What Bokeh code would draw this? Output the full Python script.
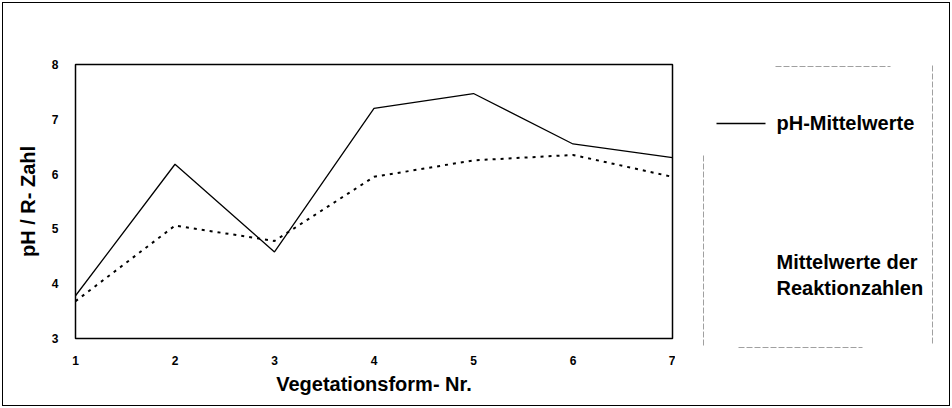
from bokeh.plotting import figure
from bokeh.layouts import row
from bokeh.models import Range1d, FixedTicker
from bokeh.core.properties import value
from bokeh.embed import file_html
from bokeh.resources import INLINE

# ---- data -------------------------------------------------------------
veg_nr = [1, 2, 3, 4, 5, 6, 7]
ph_mean = [3.78, 6.18, 4.58, 7.2, 7.47, 6.55, 6.3]
r_mean = [3.68, 5.06, 4.78, 5.95, 6.25, 6.35, 5.95]
x_ticks = [1, 2, 3, 4, 5, 6, 7]
y_ticks = [3, 4, 5, 6, 7, 8]
legend_labels = ["pH-Mittelwerte", "Mittelwerte der", "Reaktionzahlen"]

FONT = "Liberation Sans"

# ---- main chart -------------------------------------------------------
p = figure(width=675, height=408, output_backend="svg", toolbar_location=None,
           x_range=Range1d(1, 7), y_range=Range1d(3, 8),
           min_border_left=75, min_border_right=3, min_border_top=64, min_border_bottom=70)
p.grid.visible = False
p.outline_line_color = "black"
p.outline_line_width = 1.5
p.background_fill_color = "white"
p.border_fill_color = None

for ax in (p.xaxis[0], p.yaxis[0]):
    ax.axis_line_color = None
    ax.major_tick_line_color = None
    ax.minor_tick_line_color = None
    ax.major_label_text_font = FONT
    ax.major_label_text_font_style = "bold"
    ax.major_label_text_font_size = "12px"
    ax.major_label_text_color = "black"
    ax.axis_label_text_font = FONT
    ax.axis_label_text_font_style = "bold"
    ax.axis_label_text_font_size = "20px"
    ax.axis_label_text_color = "black"

p.xaxis.ticker = FixedTicker(ticks=x_ticks)
p.yaxis.ticker = FixedTicker(ticks=y_ticks)
p.xaxis.major_label_standoff = 11
p.yaxis.major_label_standoff = 11
p.xaxis.axis_label = "Vegetationsform- Nr."
p.yaxis.axis_label = "pH / R- Zahl"
p.xaxis.axis_label_standoff = 5
p.yaxis.axis_label_standoff = 10

p.line(veg_nr, ph_mean, line_color="black", line_width=1.3)
p.line(veg_nr, r_mean, line_color="black", line_width=2, line_dash="3 5")

# ---- legend panel (pixel space) ---------------------------------------
q = figure(width=277, height=408, output_backend="svg", toolbar_location=None,
           x_range=Range1d(675, 952), y_range=Range1d(408, 0),
           x_axis_location=None, y_axis_location=None,
           min_border_left=0, min_border_right=0, min_border_top=0, min_border_bottom=0)
q.outline_line_color = None
q.background_fill_color = None
q.border_fill_color = None
q.grid.visible = False

for fig in (p, q):
    try:
        fig.frame_align = False
    except Exception:
        pass

# legend sample line
q.segment(x0=[716], y0=[123], x1=[765], y1=[123], line_color="black", line_width=1.3)
# faint remnants of the legend box
q.segment(x0=[775, 703, 738, 932], y0=[66, 155, 347, 65],
          x1=[890, 703, 862, 932], y1=[66, 345, 347, 345],
          line_color="#a0a0a0", line_width=1, line_dash="6 2")
q.text(x=[776, 776, 776], y=[122, 261, 287], text=legend_labels,
       text_font=value(FONT), text_font_style="bold", text_font_size="20px",
       text_baseline="middle", text_align="left", text_color="black")

layout = row(p, q, styles={"outline": "1.5px solid black", "outline-offset": "-3px"})

open("out.html", "w").write(file_html(layout, INLINE))
